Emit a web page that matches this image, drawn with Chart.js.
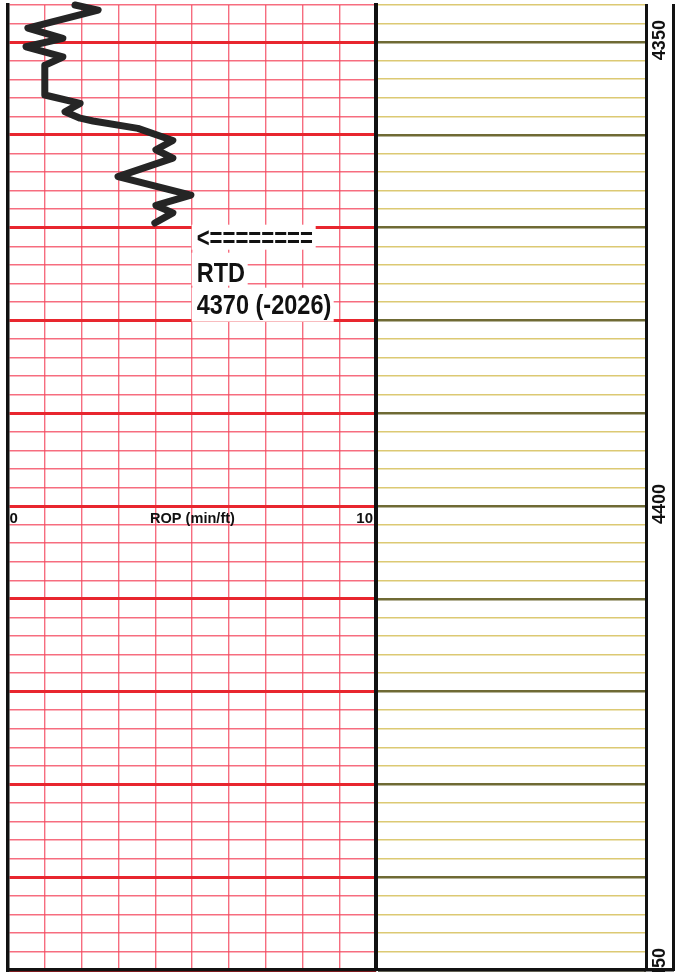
<!DOCTYPE html>
<html><head><meta charset="utf-8">
<script src="https://cdn.jsdelivr.net/npm/chart.js@4.4.1/dist/chart.umd.min.js"></script>
<style>
html,body{margin:0;padding:0;background:#fff;width:681px;height:972px;overflow:hidden}
canvas{position:absolute;top:0}
</style></head><body>
<canvas id="c1" width="380" height="972" style="left:0px"></canvas>
<canvas id="c2" width="268" height="972" style="left:378px"></canvas>
<canvas id="c3" width="38" height="972" style="left:643px"></canvas>
<script>
const depthFt = [4346.0, 4346.55, 4348.5, 4349.6, 4350.5, 4351.6, 4352.5, 4355.7, 4356.6, 4357.5, 4358.2, 4358.5, 4359.3, 4360.6, 4361.6, 4362.5, 4364.5, 4366.5, 4367.6, 4368.4, 4369.5];
const ropMinFt = [1.82, 2.45, 0.54, 1.49, 0.49, 1.49, 1.0, 1.0, 1.96, 1.55, 1.96, 2.31, 3.53, 4.48, 4.02, 4.48, 2.99, 4.97, 4.02, 4.48, 3.99];
const ropRange = [0, 10];
const depthRange = [4346, 4450];
const depthLabels = [4350, 4400, 4450];
const ropAxisTexts = ['0', 'ROP (min/ft)', '10'];
const ropAxisDepth = 4400;
const rtdTexts = ['<========', 'RTD', '4370 (-2026)'];
const rtdAnchor = {rop: 5.1, depth: 4370};

Chart.defaults.animation = false;
Chart.defaults.font.family = "'Liberation Sans', Arial, sans-serif";

const zeroW = s => { s.width = 0; };
const zeroH = s => { s.height = 0; };
const heavy = v => Math.abs(v % 10) < 1e-6;

function txt(ctx, s, x, y, font, sx, align) {
  ctx.save();
  ctx.translate(x, y);
  ctx.scale(sx, 1);
  ctx.font = font;
  ctx.textAlign = align || 'left';
  ctx.textBaseline = 'alphabetic';
  ctx.fillStyle = '#111';
  ctx.fillText(s, 0, 0);
  ctx.restore();
}

const notes = {
  id: 'notes',
  afterDraw(chart) {
    const {ctx, scales: {x, y}} = chart;
    ctx.save();
    // ROP axis caption
    const by = y.getPixelForValue(ropAxisDepth) + 17;
    const f1 = "bold 15px 'Liberation Sans', Arial, sans-serif";
    txt(ctx, ropAxisTexts[0], x.getPixelForValue(ropRange[0]) + 1.5, by, f1, 1, 'left');
    txt(ctx, ropAxisTexts[1], x.getPixelForValue(3.86), by, f1, 0.97, 'left');
    txt(ctx, ropAxisTexts[2], x.getPixelForValue(ropRange[1]) - 3, by, f1, 1, 'right');
    // RTD note with white boxes
    const ax = x.getPixelForValue(rtdAnchor.rop);
    const ay = y.getPixelForValue(rtdAnchor.depth);
    ctx.fillStyle = '#fff';
    ctx.fillRect(ax - 4, ay - 3, 124, 25);
    ctx.fillRect(ax - 4, ay + 25, 56, 33);
    ctx.fillRect(ax - 4, ay + 60, 142, 34);
    const f2 = "bold 28px 'Liberation Sans', Arial, sans-serif";
    txt(ctx, rtdTexts[0], ax + 1, ay + 19, f2, 0.79, 'left');
    txt(ctx, rtdTexts[1], ax + 1, ay + 54, f2, 0.84, 'left');
    txt(ctx, rtdTexts[2], ax + 1, ay + 86, f2, 0.84, 'left');
    ctx.restore();
  }
};

const depthText = {
  id: 'depthText',
  afterDraw(chart) {
    const {ctx, chartArea, scales: {y}} = chart;
    const cx = (chartArea.left + chartArea.right) / 2;
    ctx.save();
    ctx.font = "bold 18px 'Liberation Sans', Arial, sans-serif";
    ctx.fillStyle = '#111';
    ctx.textAlign = 'center';
    ctx.textBaseline = 'middle';
    depthLabels.forEach(d => {
      ctx.save();
      ctx.translate(cx, y.getPixelForValue(d));
      ctx.rotate(-Math.PI / 2);
      ctx.fillText(String(d), 2, 1);
      ctx.restore();
    });
    ctx.restore();
  }
};

const red = 'rgba(244,72,95,0.8)';
const redHeavy = '#e8262e';

// ---- track 1: ROP ----
new Chart(document.getElementById('c1'), {
  type: 'line',
  data: {
    datasets: [{
      data: depthFt.map((d, i) => ({x: ropMinFt[i], y: d})),
      borderColor: '#252525',
      borderWidth: 7,
      pointRadius: 0,
      tension: 0,
      borderJoinStyle: 'round',
      borderCapStyle: 'round',
      clip: false
    }]
  },
  options: {
    responsive: false,
    layout: {padding: {left: 8, right: 4, top: 5, bottom: 2}},
    plugins: {legend: {display: false}, tooltip: {enabled: false}},
    scales: {
      x: {
        type: 'linear', position: 'bottom', min: ropRange[0], max: ropRange[1],
        ticks: {display: false, stepSize: 1},
        grid: {color: red, lineWidth: 1.4, drawTicks: false},
        border: {display: true, color: '#111', width: 3.5},
        afterFit: zeroH
      },
      y: {
        type: 'linear', position: 'left', reverse: true, min: depthRange[0], max: depthRange[1],
        ticks: {display: false, stepSize: 2},
        grid: {
          drawTicks: false,
          color: c => heavy(c.tick.value) ? redHeavy : red,
          lineWidth: c => heavy(c.tick.value) ? 3 : 1.4
        },
        border: {display: true, color: '#111', width: 3.5},
        afterFit: zeroW
      },
      yR: {
        type: 'linear', position: 'right', reverse: true, min: depthRange[0], max: depthRange[1],
        ticks: {display: false},
        grid: {drawOnChartArea: false, drawTicks: false},
        border: {display: true, color: '#111', width: 4},
        afterFit: zeroW
      }
    }
  },
  plugins: [notes]
});

// ---- track 2: empty, yellow grid ----
const yel = 'rgba(214,192,90,0.85)';
const yelHeavy = '#6f6a34';
new Chart(document.getElementById('c2'), {
  type: 'line',
  data: {datasets: [{data: []}]},
  options: {
    responsive: false,
    layout: {padding: {left: 0, right: 0, top: 5, bottom: 2}},
    plugins: {legend: {display: false}, tooltip: {enabled: false}},
    scales: {
      x: {
        type: 'linear', min: 0, max: 1,
        ticks: {display: false},
        grid: {display: false, drawTicks: false},
        border: {display: true, color: '#111', width: 3.5},
        afterFit: zeroH
      },
      y: {
        type: 'linear', reverse: true, min: depthRange[0], max: depthRange[1],
        ticks: {display: false, stepSize: 2},
        grid: {
          drawTicks: false,
          color: c => heavy(c.tick.value) ? yelHeavy : yel,
          lineWidth: c => heavy(c.tick.value) ? 2.5 : 1.5
        },
        border: {display: false},
        afterFit: zeroW
      }
    }
  }
});

// ---- track 3: depth ----
new Chart(document.getElementById('c3'), {
  type: 'line',
  data: {datasets: [{data: []}]},
  options: {
    responsive: false,
    layout: {padding: {left: 3, right: 8, top: 5, bottom: 2}},
    plugins: {legend: {display: false}, tooltip: {enabled: false}},
    scales: {
      x: {
        type: 'linear', min: 0, max: 1,
        ticks: {display: false},
        grid: {display: false, drawTicks: false},
        border: {display: true, color: '#111', width: 3.5},
        afterFit: zeroH
      },
      y: {
        type: 'linear', position: 'left', reverse: true, min: depthRange[0], max: depthRange[1],
        ticks: {display: false},
        grid: {display: false, drawTicks: false},
        border: {display: true, color: '#111', width: 3},
        afterFit: zeroW
      },
      yR: {
        type: 'linear', position: 'right', reverse: true, min: depthRange[0], max: depthRange[1],
        ticks: {display: false},
        grid: {display: false, drawTicks: false},
        border: {display: true, color: '#111', width: 3},
        afterFit: zeroW
      }
    }
  },
  plugins: [depthText]
});
</script>
</body></html>
